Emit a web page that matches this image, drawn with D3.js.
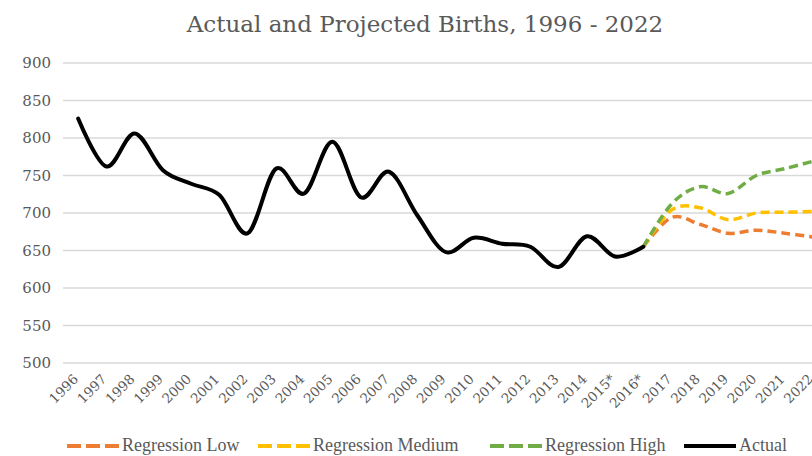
<!DOCTYPE html>
<html>
<head>
<meta charset="utf-8">
<script src="https://cdn.jsdelivr.net/npm/d3@7"></script>
<style>
  body { margin: 0; background: #fff; overflow: hidden; }
  svg { display: block; }
</style>
</head>
<body>
<script>
// chart data
const years = ["1996", "1997", "1998", "1999", "2000", "2001", "2002", "2003", "2004",
  "2005", "2006", "2007", "2008", "2009", "2010", "2011", "2012", "2013", "2014",
  "2015*", "2016*", "2017", "2018", "2019", "2020", "2021", "2022"];
const actual = [826, 762, 806, 757, 739, 724, 673, 759, 726, 795, 721, 755, 697,
  648, 667, 659, 655, 628, 669, 642, 655];
// projections start from the last actual value (2016*)
const projYears = ["2016*", "2017", "2018", "2019", "2020", "2021", "2022"];
const regLow = [655, 694, 685, 673, 677, 673, 668];
const regMedium = [655, 704, 707, 691, 700, 701, 702];
const regHigh = [655, 712, 735, 726, 750, 759, 769];
const yTicks = [500, 550, 600, 650, 700, 750, 800, 850, 900];

const width = 812;
const height = 456;

const svg = d3.select("body").append("svg")
  .attr("width", width)
  .attr("height", height);

// title
svg.append("text")
  .attr("x", 425)
  .attr("y", 32)
  .attr("text-anchor", "middle")
  .style("font-family", "DejaVu Serif")
  .style("font-size", "23px")
  .style("fill", "#595959")
  .text("Actual and Projected Births, 1996 - 2022");

// scales
let x = d3.scaleBand()
  .domain(years)
  .range([64, 827]);
let cx = d => x(d) + x.bandwidth() / 2;

let y = d3.scaleLinear()
  .domain([500, 900])
  .range([363, 63]);

// gridlines
svg.append("g")
  .selectAll("line")
  .data(yTicks)
  .enter()
  .append("line")
  .attr("x1", 63)
  .attr("x2", width)
  .attr("y1", d => y(d))
  .attr("y2", d => y(d))
  .style("stroke", "#d9d9d9")
  .style("stroke-width", 1.5);

// y labels
svg.append("g")
  .selectAll("text")
  .data(yTicks)
  .enter()
  .append("text")
  .attr("x", 51)
  .attr("y", d => y(d) + 5)
  .attr("text-anchor", "end")
  .style("font-family", "DejaVu Serif")
  .style("font-size", "15px")
  .style("fill", "#595959")
  .text(d => d);

// x labels, rotated
svg.append("g")
  .selectAll("text")
  .data(years)
  .enter()
  .append("text")
  .attr("text-anchor", "end")
  .attr("transform", d => "translate(" + (cx(d) + 1) + ",380)rotate(-45)")
  .style("font-family", "DejaVu Serif")
  .style("font-size", "13.5px")
  .style("fill", "#595959")
  .text(d => d);

// line generator
let line = d3.line()
  .x(d => cx(d[0]))
  .y(d => y(d[1]))
  .curve(d3.curveCardinal.tension(0));

let series = [
  { name: "Regression Low", color: "#ED7D31", dash: true, years: projYears, values: regLow },
  { name: "Regression Medium", color: "#FFC000", dash: true, years: projYears, values: regMedium },
  { name: "Regression High", color: "#70AD47", dash: true, years: projYears, values: regHigh },
  { name: "Actual", color: "#000000", dash: false, years: years.slice(0, actual.length), values: actual }
];

svg.selectAll(".series")
  .data(series)
  .enter()
  .append("path")
  .attr("class", "series")
  .attr("d", s => line(s.years.map((yr, i) => [yr, s.values[i]])))
  .style("fill", "none")
  .style("stroke", s => s.color)
  .style("stroke-width", s => s.dash ? 3.5 : 4)
  .style("stroke-linecap", s => s.dash ? "butt" : "round")
  .style("stroke-linejoin", "round")
  .style("stroke-dasharray", s => s.dash ? "9,5" : null);

// legend
let legendX = [67, 258, 490, 684];
let legend = svg.append("g")
  .selectAll("g")
  .data(series)
  .enter()
  .append("g")
  .attr("transform", (s, i) => "translate(" + legendX[i] + ",446)");

legend.append("line")
  .attr("x1", 0)
  .attr("x2", 52)
  .attr("y1", 0)
  .attr("y2", 0)
  .style("stroke", s => s.color)
  .style("stroke-width", 4)
  .style("stroke-dasharray", s => s.dash ? "14,5" : null);

legend.append("text")
  .attr("x", 55)
  .attr("y", 5)
  .style("font-family", "Liberation Serif")
  .style("font-size", "18px")
  .style("fill", "#595959")
  .text(s => s.name);
</script>
</body>
</html>
